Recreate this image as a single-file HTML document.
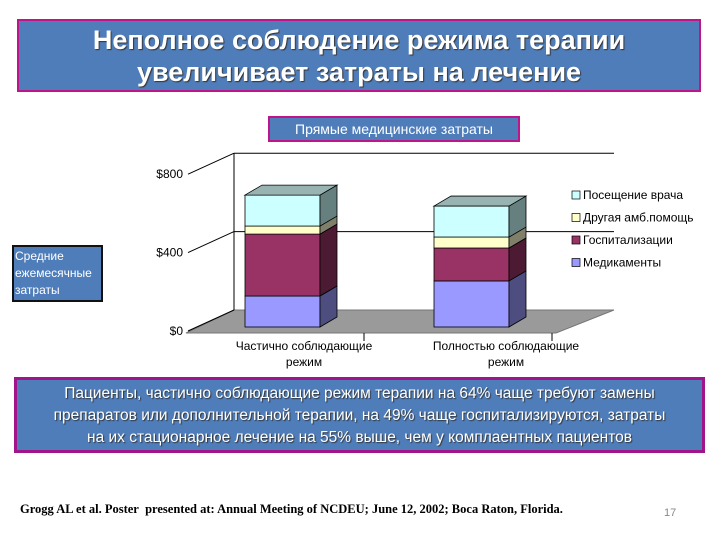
<!DOCTYPE html>
<html><head><meta charset="utf-8">
<style>
html,body{margin:0;padding:0;background:#fff;}
body{width:720px;height:540px;position:relative;overflow:hidden;font-family:"Liberation Sans","DejaVu Sans",sans-serif;}
.box{position:absolute;background:#4f7dba;color:#fff;box-sizing:border-box;}
</style></head><body>
<div class="box" style="left:17px;top:19px;width:684px;height:73px;border:2px solid #c0158a;text-align:center;font-size:27px;font-weight:bold;line-height:32px;padding-top:3px;text-shadow:1px 1px 1px #333;">Неполное соблюдение режима терапии<br>увеличивает затраты на лечение</div>

<svg id="chart" width="720" height="540" style="position:absolute;left:0;top:0" xmlns="http://www.w3.org/2000/svg"></svg>

<div class="box" style="left:12px;top:245px;width:91px;height:57px;border:2px solid #111;font-size:12px;line-height:17px;padding:1px 0 0 1px;text-align:left;white-space:nowrap;overflow:hidden;">Средние<br>ежемесячные<br>затраты</div>

<div class="box" style="left:268px;top:116px;width:252px;height:26px;border:2px solid #c0158a;text-align:center;font-size:14px;line-height:22px;">Прямые медицинские затраты</div>

<div class="box" style="left:14px;top:377px;width:691px;height:76px;border:3px solid #a0158a;text-align:center;font-size:15.5px;line-height:22px;padding-top:3px;white-space:nowrap;text-shadow:1px 1px 1px #333;">Пациенты, частично соблюдающие режим терапии на 64% чаще требуют замены<br>препаратов или дополнительной терапии, на 49% чаще госпитализируются, затраты<br>на их стационарное лечение на 55% выше, чем у комплаентных пациентов</div>

<div style="position:absolute;left:20px;top:502px;font-family:'Liberation Serif',serif;font-weight:bold;font-size:12.5px;color:#000;">Grogg AL et al. Poster&nbsp; presented at: Annual Meeting of NCDEU; June 12, 2002; Boca Raton, Florida.</div>
<div style="position:absolute;left:664px;top:507px;font-size:11px;color:#888;">17</div>

<script>
const categories = ["Частично соблюдающие|режим", "Полностью соблюдающие|режим"];
const seriesNames = ["Медикаменты", "Госпитализации", "Другая амб.помощь", "Посещение врача"];
const medications = [158, 235];
const hospital = [316, 168];
const otherCare = [41, 56];
const doctorVisits = [158, 158];
const yTicks = [0, 400, 800];
const yTickLabels = ["$0", "$400", "$800"];

const svg = document.getElementById('chart');
const NS = 'http://www.w3.org/2000/svg';
function mk(tag, attrs){const e=document.createElementNS(NS,tag);for(const k in attrs)e.setAttribute(k,attrs[k]);svg.appendChild(e);return e;}

const PX = 0.196;
const backY0 = 310, frontY0 = 327, dx = 17, dy = 10;
function yBack(v){return backY0 - v*PX;}
function yFront(v){return frontY0 - v*PX;}
const barX = [245, 434], barW = 75;

let f = mk('polygon',{points:"234,310 614,310 556,333 186,333",fill:"#9a9a9a",stroke:"#777"});


let wl = mk('line',{x1:234,y1:yBack(800),x2:234,y2:310,stroke:"#000","stroke-width":1});


yTicks.forEach((t,i)=>{
  if(t>0){
    const g = mk('line',{x1:234,y1:yBack(t),x2:614,y2:yBack(t),stroke:"#000","stroke-width":1});
    
    
  }
  const tl = mk('line',{x1:234,y1:yBack(t),x2:188,y2:yBack(t)+21,stroke:"#000","stroke-width":1});
  
  
  const tx = mk('text',{x:183,y:yBack(t)+25,"text-anchor":"end","font-size":"12","fill":"#000","font-family":"Liberation Sans, sans-serif"});
  tx.textContent = yTickLabels[i];
  
  
});
[364,552].forEach((x,i)=>{
  const l = mk('line',{x1:x,y1:333,x2:x,y2:341,stroke:"#000"});
  
  
});

const fronts = ["#9999ff","#993366","#ffffcc","#ccffff"];
const sides = ["#4d4d80","#4d1a33","#80806a","#668080"];
const tops = ["#7a7acc","#7a2952","#cccca3","#99b3b3"];
const series = [medications, hospital, otherCare, doctorVisits];

categories.forEach((cat,ci)=>{
  let base = 0;
  const x = barX[ci];
  series.forEach((arr,si)=>{
    const v = arr[ci];
    const y1 = yFront(base), y2 = yFront(base+v);
    const fr = mk('rect',{x:x,y:y2,width:barW,height:y1-y2,fill:fronts[si],stroke:"#000","stroke-width":0.8});
    
    
    const sd = mk('polygon',{points:`${x+barW},${y1} ${x+barW+dx},${y1-dy} ${x+barW+dx},${y2-dy} ${x+barW},${y2}`,fill:sides[si],stroke:"#000","stroke-width":0.8});
    
    
    base += v;
  });
  const yt = yFront(base);
  const tp = mk('polygon',{points:`${x},${yt} ${x+dx},${yt-dy} ${x+barW+dx},${yt-dy} ${x+barW},${yt}`,fill:tops[3],stroke:"#000","stroke-width":0.8});
  
  
  const parts = cat.split('|');
  parts.forEach((p,pi)=>{
    const t = mk('text',{x:[304,506][ci],y:350+pi*16,"text-anchor":"middle","font-size":"12","fill":"#000","font-family":"Liberation Sans, sans-serif"});
    t.textContent = p;
    
    
  });
});

const legendOrder = [3,2,1,0];
legendOrder.forEach((si,i)=>{
  const y = 195 + i*22.5;
  const r = mk('rect',{x:572,y:y-4,width:8,height:8,fill:fronts[si],stroke:"#000","stroke-width":0.7});
  
  
  const t = mk('text',{x:583,y:y+4,"font-size":"12","fill":"#000","font-family":"Liberation Sans, sans-serif"});
  t.textContent = seriesNames[si];
  
  
});
</script>
</body></html>
